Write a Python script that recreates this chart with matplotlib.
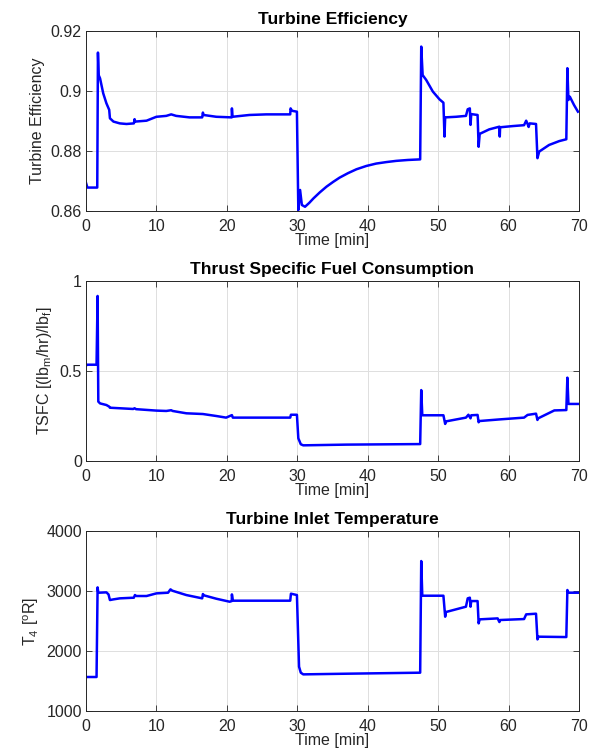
import numpy as np
import matplotlib
matplotlib.use("Agg")
from matplotlib import pyplot as plt

plt.rcParams['font.family'] = ['Liberation Sans', 'DejaVu Sans']
plt.rcParams['mathtext.default'] = 'regular'

# Turbine efficiency (time [min], value)
eff_t = [0, 0.2, 1.6, 1.7, 1.8, 2.0, 2.45, 2.9, 3.3, 3.4, 3.9, 4.8, 5.75, 6.8, 6.9, 7.0,
         8.6, 10, 11.4, 12.1, 12.8, 14.7, 16.5, 16.6, 16.7, 18.5, 20.7, 20.72, 20.8, 23.2,
         25.6, 29.0, 29.05, 29.25, 29.95, 30.15, 30.4, 30.65, 31.1, 31.7, 32.3, 33.2, 34.15,
         35.1, 36.0, 37.2, 38.4, 39.8, 41.2, 42.65, 44.05, 45.7, 47.45, 47.6, 47.8, 48.3,
         49.25, 50.2, 50.75, 50.9, 51.0, 52.55, 53.95, 54.2, 54.5, 54.6, 54.7, 55.6, 55.75,
         55.9, 57.25, 58.7, 58.75, 58.8, 60.6, 62.2, 62.5, 62.7, 62.85, 63.0, 63.9, 64.1,
         64.35, 65.75, 67.2, 68.2, 68.35, 68.5, 68.7, 69.3, 69.85]
eff_v = [0.8694, 0.8678, 0.8678, 0.9128, 0.9053, 0.9042, 0.8992, 0.8959, 0.8937, 0.8909,
         0.8898, 0.8892, 0.8890, 0.8892, 0.8906, 0.8898, 0.8901, 0.8914, 0.8917, 0.8922,
         0.8917, 0.8912, 0.8912, 0.8928, 0.8920, 0.8914, 0.8912, 0.8942, 0.8914, 0.8920,
         0.8922, 0.8922, 0.8942, 0.8934, 0.8931, 0.8603, 0.8670, 0.8620, 0.8614, 0.8627,
         0.8642, 0.8662, 0.8681, 0.8697, 0.8711, 0.8726, 0.8739, 0.8750, 0.8758, 0.8763,
         0.8767, 0.8770, 0.8772, 0.9148, 0.9053, 0.9037, 0.8998, 0.8972, 0.8961, 0.8848,
         0.8912, 0.8914, 0.8917, 0.8939, 0.8942, 0.8887, 0.8923, 0.8920, 0.8814, 0.8857,
         0.8872, 0.8881, 0.8848, 0.8879, 0.8883, 0.8886, 0.8901, 0.8890, 0.8880, 0.8892,
         0.8890, 0.8776, 0.8798, 0.8820, 0.8833, 0.8839, 0.9076, 0.8970, 0.8981, 0.8953,
         0.8931]

# Thrust specific fuel consumption
tsfc_t = [0, 0.1, 1.5, 1.65, 1.75, 2.0, 2.9, 3.3, 3.4, 6.7, 6.9, 7.1, 10, 11.4, 12.1, 12.3,
          14.25, 16.6, 18.5, 19.9, 20.72, 20.85, 29.0, 29.1, 29.95, 30.15, 30.5, 30.85, 37,
          47.45, 47.6, 47.75, 50.75, 51.0, 51.1, 53.95, 54.3, 54.6, 54.7, 55.6, 55.75, 55.85,
          58.7, 62.2, 62.7, 63.9, 64.1, 64.2, 66.5, 68.2, 68.35, 68.5, 69.85]
tsfc_v = [0.528, 0.535, 0.535, 0.917, 0.330, 0.320, 0.311, 0.302, 0.296, 0.289, 0.293,
          0.288, 0.280, 0.278, 0.282, 0.278, 0.265, 0.261, 0.250, 0.241, 0.255, 0.241, 0.241,
          0.257, 0.257, 0.126, 0.093, 0.087, 0.091, 0.094, 0.394, 0.254, 0.254, 0.206, 0.220,
          0.241, 0.257, 0.237, 0.254, 0.256, 0.215, 0.222, 0.231, 0.241, 0.256, 0.263, 0.228,
          0.237, 0.281, 0.283, 0.463, 0.317, 0.317]

# Turbine inlet temperature T4 [R]
t4_t = [0, 1.5, 1.65, 1.75, 2.9, 3.2, 3.4, 3.9, 4.8, 6.8, 6.95, 7.15, 8.6, 10, 11.65,
        12.0, 12.25, 14.25, 16.5, 16.6, 16.75, 18.5, 20.4, 20.7, 20.72, 20.85, 29.0, 29.1,
        29.95, 30.25, 30.5, 30.85, 37, 47.45, 47.6, 47.75, 50.75, 51.0, 51.1, 53.95, 54.2,
        54.5, 54.6, 54.7, 55.6, 55.75, 55.9, 58.45, 58.7, 58.8, 62.2, 62.5, 63.9, 64.1,
        64.25, 68.2, 68.35, 68.5, 69.85]
t4_v = [1567, 1567, 3061, 2972, 2978, 2944, 2850, 2861, 2878, 2889, 2933, 2917, 2917, 2961,
        2972, 3028, 3006, 2933, 2878, 2950, 2928, 2872, 2822, 2833, 2944, 2839, 2839, 2956,
        2933, 1739, 1639, 1611, 1622, 1639, 3500, 2922, 2922, 2572, 2650, 2739, 2878, 2889,
        2739, 2833, 2833, 2461, 2528, 2544, 2483, 2517, 2533, 2611, 2622, 2194, 2239, 2233,
        3017, 2972, 2972]

titles = ['Turbine Efficiency', 'Thrust Specific Fuel Consumption', 'Turbine Inlet Temperature']
ylabels = ['Turbine Efficiency', 'TSFC [(lb$_m$/hr)/lb$_f$]', 'T$_4$ [$^o$R]']
yticks = [[0.86, 0.88, 0.9, 0.92], [0, 0.5, 1], [1000, 2000, 3000, 4000]]
yticklabels = [['0.86', '0.88', '0.9', '0.92'], ['0', '0.5', '1'], ['1000', '2000', '3000', '4000']]
xticks = [0, 10, 20, 30, 40, 50, 60, 70]

series = [(eff_t, eff_v), (tsfc_t, tsfc_v), (t4_t, t4_v)]

fig = plt.figure(figsize=(5.95, 7.54), dpi=100)
bottoms = [0.7202, 0.3886, 0.0570]
gray = '#262626'

for i in range(3):
    ax = fig.add_axes([0.1445, bottoms[i], 0.8286, 0.2387])
    x, y = series[i]
    ax.plot(x, y, color='#0000ff', lw=1.8)
    ax.set_xlim(0, 70)
    ax.set_ylim(yticks[i][0], yticks[i][-1])
    ax.set_xticks(xticks)
    ax.set_yticks(yticks[i])
    ax.set_yticklabels(yticklabels[i])
    ax.grid(True, color='#dfdfdf', lw=0.7)
    ax.set_axisbelow(True)
    ax.tick_params(direction='in', top=True, right=True, length=4, width=0.6,
                   labelsize=11.5, colors=gray, pad=3)
    ax.tick_params(axis='x', pad=5.5)
    for s in ax.spines.values():
        s.set_color(gray)
        s.set_linewidth(0.7)
    ax.set_title(titles[i], fontsize=12.5, fontweight='bold', pad=5)
    ax.set_xlabel('Time [min]', fontsize=11.5, color=gray, labelpad=-0.5)
    ax.set_ylabel(ylabels[i], fontsize=11.5, color=gray, labelpad=4)

fig.savefig('out.png', dpi=100)
